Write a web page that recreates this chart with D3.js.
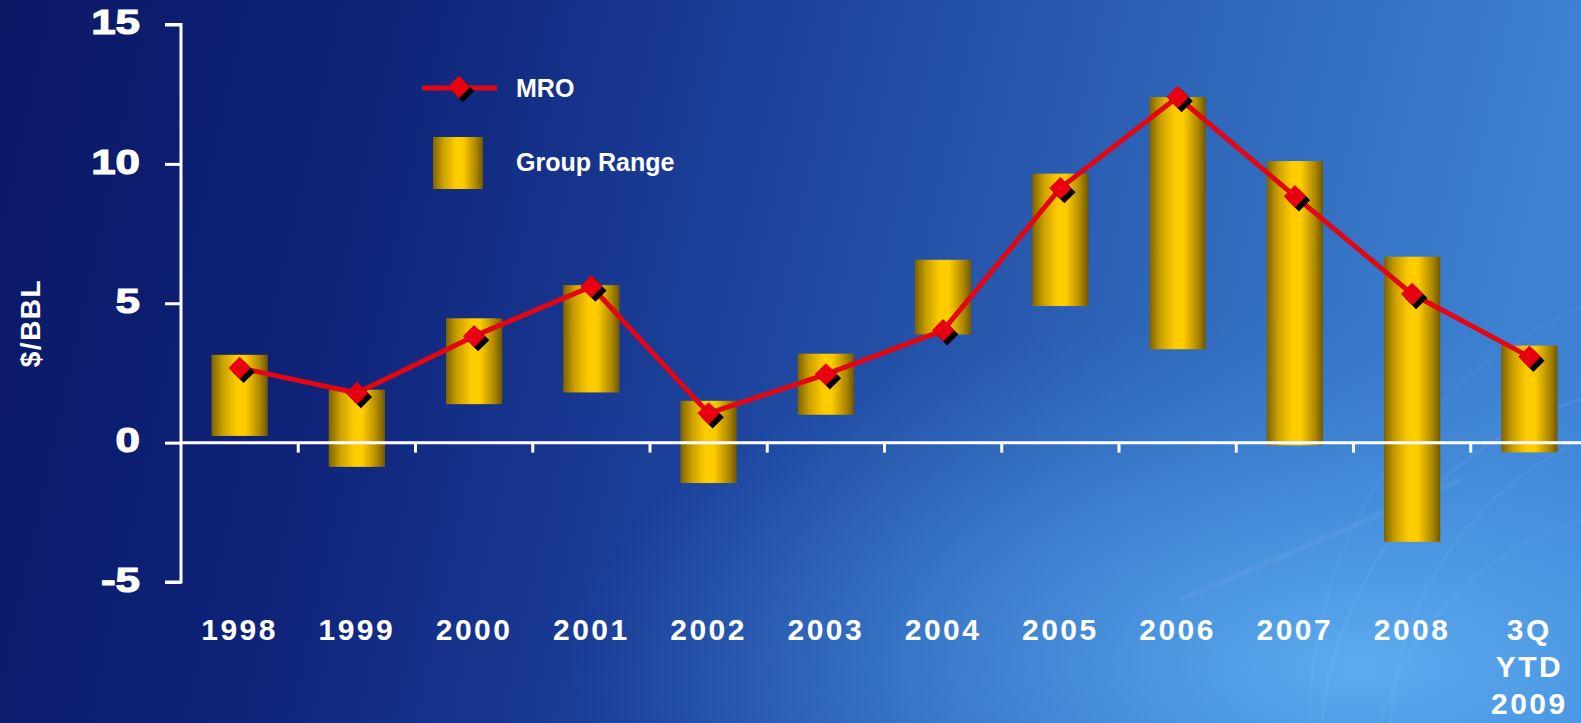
<!DOCTYPE html>
<html><head><meta charset="utf-8">
<script src="https://d3js.org/d3.v7.min.js"></script>
<style>html,body{margin:0;padding:0;overflow:hidden;background:#0b1a6c}</style>
</head><body>
<script>
const categories = ["1998","1999","2000","2001","2002","2003","2004","2005","2006","2007","2008","3Q\nYTD\n2009"];
const rangeLow  = [0.24,-0.87,1.38,1.8,-1.45,1.0,3.88,4.9,3.35,-0.1,-3.56,-0.35];
const rangeHigh = [3.15,1.9,4.46,5.65,1.5,3.19,6.56,9.65,12.4,10.1,6.67,3.48];
const mro       = [2.68,1.78,3.82,5.6,1.05,2.45,4.03,9.13,12.4,8.84,5.33,3.08];
const yTicks = [-5,0,5,10,15];

const W = 1581, H = 723;
const svg = d3.select("body").append("svg").attr("width",W).attr("height",H)
  .style("font-family","'Liberation Sans', Arial, sans-serif");
const defs = svg.append("defs");

// background
const bg = defs.append("linearGradient").attr("id","bg").attr("x1","0").attr("y1","0").attr("x2","1").attr("y2","0.1");
[["0%","#0a1866"],["25%","#0f2379"],["50%","#1c429c"],["75%","#2d64b8"],["100%","#3d82d2"]]
  .forEach(([o,c])=>bg.append("stop").attr("offset",o).attr("stop-color",c));
const rg = defs.append("radialGradient").attr("id","glow").attr("cx","0.86").attr("cy","0.92").attr("r","0.5");
rg.append("stop").attr("offset","0%").attr("stop-color","#5eaef2").attr("stop-opacity",0.95);
rg.append("stop").attr("offset","55%").attr("stop-color","#4b98e4").attr("stop-opacity",0.5);
rg.append("stop").attr("offset","100%").attr("stop-color","#3b7fd0").attr("stop-opacity",0);
svg.append("rect").attr("width",W).attr("height",H).attr("fill","url(#bg)");
svg.append("rect").attr("width",W).attr("height",H).attr("fill","url(#glow)");
// faint swirl arcs
const arcs = svg.append("g").attr("fill","none").attr("stroke","#ffffff");
[[1700,760,380,0.05],[1720,740,330,0.04],[1660,800,290,0.035],[1760,720,450,0.03]].forEach(([cx,cy,r,o])=>{
  arcs.append("circle").attr("cx",cx).attr("cy",cy).attr("r",r).attr("stroke-opacity",o).attr("stroke-width",3);
});
arcs.append("line").attr("x1",1180).attr("y1",600).attr("x2",1460).attr("y2",480).attr("stroke-opacity",0.05).attr("stroke-width",6);

// bar gradient
const gg = defs.append("linearGradient").attr("id","gold").attr("x1","0").attr("y1","0").attr("x2","1").attr("y2","0");
[["0%","#7d6300"],["20%","#c9a000"],["45%","#ffcc00"],["60%","#ffcc00"],["85%","#b08a00"],["100%","#6f5800"]]
  .forEach(([o,c])=>gg.append("stop").attr("offset",o).attr("stop-color",c));

const x0 = 181, band = 117.25;
const x = d3.scaleBand().domain(categories).range([x0, x0 + band*categories.length]).paddingInner(0.52).paddingOuter(0.26);
const y = d3.scaleLinear().domain([-5,15]).range([582,24.5]);

// bars
svg.append("g").selectAll("rect").data(categories).join("rect")
  .attr("x",d=>x(d)).attr("width",x.bandwidth())
  .attr("y",(d,i)=>y(rangeHigh[i])).attr("height",(d,i)=>y(rangeLow[i])-y(rangeHigh[i]))
  .attr("fill","url(#gold)");

// y axis
const yAxis = d3.axisLeft(y).tickValues(yTicks).tickSize(16).tickPadding(24).tickFormat(d=>String(d));
const ya = svg.append("g").attr("transform",`translate(${x0},0)`).call(yAxis);
ya.select(".domain").attr("stroke","#fff").attr("stroke-width",3).attr("d",`M-16,${y(15)}H0V${y(-5)}H-16`);
ya.selectAll(".tick line").attr("stroke","#fff").attr("stroke-width",3);
ya.selectAll(".tick text").attr("fill","#fff").attr("font-size",36).attr("font-weight","bold").attr("dy","0.26em")
  .attr("x",0).attr("transform","translate(-41,0) scale(1.22,1)")
  .attr("stroke","#fff").attr("stroke-width",1.2);

// x axis at zero
const xa = svg.append("g").attr("transform",`translate(0,${y(0)})`);
xa.append("line").attr("x1",x0).attr("x2",W).attr("stroke","#fff").attr("stroke-width",3);
const bounds = d3.range(1,categories.length).map(i=>x0+band*i);
xa.selectAll(".tk").data(bounds).join("line").attr("class","tk")
  .attr("x1",d=>d).attr("x2",d=>d).attr("y1",0).attr("y2",10).attr("stroke","#fff").attr("stroke-width",3);

// category labels
const lab = svg.append("g").attr("fill","#fff").attr("font-size",30).attr("font-weight","bold")
  .attr("text-anchor","middle").attr("letter-spacing","2.5px");
categories.forEach(c=>{
  const t = lab.append("text").attr("x",x(c)+x.bandwidth()/2).attr("y",640);
  c.split("\n").forEach((s,j)=>t.append("tspan").attr("x",x(c)+x.bandwidth()/2).attr("dy",j?37:0).text(s));
});

// line
const pts = categories.map((c,i)=>[x(c)+x.bandwidth()/2, y(mro[i])]);
svg.append("path").attr("d",d3.line()(pts)).attr("fill","none").attr("stroke","#e30613").attr("stroke-width",5).attr("stroke-linejoin","round");
const dm = d3.symbol().type(d3.symbolDiamond2).size(320);
svg.append("g").selectAll("path").data(pts).join("path").attr("d",dm)
  .attr("transform",d=>`translate(${d[0]+4},${d[1]+4})`).attr("fill","#000");
svg.append("g").selectAll("path").data(pts).join("path").attr("d",dm)
  .attr("transform",d=>`translate(${d[0]},${d[1]})`).attr("fill","#e80010");

// y label
svg.append("text").attr("transform","translate(40,323) rotate(-90)").attr("text-anchor","middle")
  .attr("fill","#fff").attr("font-size",28).attr("font-weight","bold").attr("letter-spacing","1.5px").text("$/BBL");

// legend
const lg = svg.append("g");
lg.append("line").attr("x1",422).attr("x2",497).attr("y1",88).attr("y2",88).attr("stroke","#e30613").attr("stroke-width",5);
lg.append("path").attr("d",dm).attr("transform","translate(463,91)").attr("fill","#000");
lg.append("path").attr("d",dm).attr("transform","translate(459,87)").attr("fill","#e80010");
lg.append("text").attr("x",516).attr("y",97).attr("fill","#fff").attr("font-size",25).attr("font-weight","bold").text("MRO");
lg.append("rect").attr("x",433).attr("y",137).attr("width",50).attr("height",52).attr("fill","url(#gold)");
lg.append("text").attr("x",516).attr("y",171).attr("fill","#fff").attr("font-size",25).attr("font-weight","bold").text("Group Range");
</script>
</body></html>
